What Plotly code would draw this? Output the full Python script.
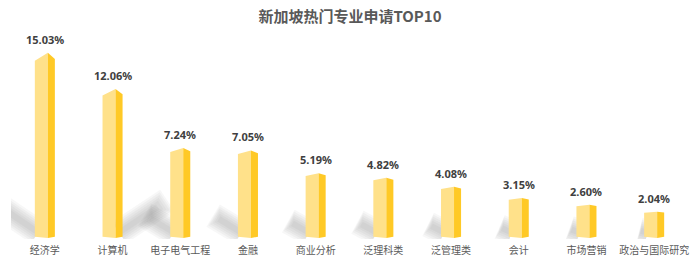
import plotly.graph_objects as go

# ---- data ----
categories = ["经济学", "计算机", "电子电气工程", "金融", "商业分析",
              "泛理科类", "泛管理类", "会计", "市场营销", "政治与国际研究"]
values = [15.03, 12.06, 7.24, 7.05, 5.19, 4.82, 4.08, 3.15, 2.60, 2.04]
value_labels = [f"{v:.2f}%" for v in values]
title_text = "新加坡热门专业申请TOP10"

# ---- style ----
FRONT = "#FFE18A"
SIDE = "#FFC926"
HALF = 0.148          # half total bar width (category units)
FRONT_W = 0.192       # front face width
ROOF = 0.045          # roof rise relative to value
SHADOW_DIR = [-1, 1, -1, -1, -1, -1, -1, -1, -1, -1]
SH_DX = 0.059         # shadow horizontal length per value unit
SH_DY = 0.256         # shadow vertical length per value unit

fig = go.Figure()

# soft shadows (layered translucent strokes)
layers = [(26, 1.00), (22, 0.97), (18, 0.94), (14, 0.90), (10, 0.86), (6, 0.80)]
for i, v in enumerate(values):
    d = SHADOW_DIR[i]
    xs = i - HALF + 0.05 if d < 0 else i + HALF - 0.05
    x0, y0 = xs, 0.35
    ex, ey = xs + d * SH_DX * v, SH_DY * v
    for w, t in layers:
        x1 = x0 + (ex - x0) * t
        y1 = y0 + (ey - y0) * t
        fig.add_trace(go.Scatter(
            x=[x0, x1], y=[y0, y1], mode="lines",
            line=dict(color="rgba(95,95,95,0.05)", width=w),
            hoverinfo="skip", showlegend=False))

# bars (prism look)
for i, v in enumerate(values):
    xl = i - HALF
    xm = xl + FRONT_W
    xr = i + HALF
    peak = v * (1 + ROOF)
    right = v * (1 + ROOF * 0.2)
    fig.add_trace(go.Scatter(
        x=[xl, xl, xm, xm, xl], y=[0, v, peak, -0.12, 0],
        mode="lines", fill="toself", fillcolor=FRONT,
        line=dict(width=0), hoverinfo="skip", showlegend=False))
    fig.add_trace(go.Scatter(
        x=[xm, xm, xr, xr, xm], y=[-0.12, peak, right, 0, -0.12],
        mode="lines", fill="toself", fillcolor=SIDE,
        line=dict(width=0), hoverinfo="skip", showlegend=False))
    fig.add_annotation(
        x=i, y=peak, text=value_labels[i], showarrow=False,
        yanchor="bottom", yshift=4,
        font=dict(family="Noto Sans, Noto Sans CJK SC", size=11,
                  color="#404040", weight="bold"))

fig.update_layout(
    width=700, height=263,
    margin=dict(l=11, r=12, t=32, b=24, autoexpand=False),
    paper_bgcolor="white", plot_bgcolor="white",
    title=dict(text=title_text, x=0.5, xanchor="center",
               y=1 - 17 / 263, yanchor="middle", yref="container",
               font=dict(family="Noto Sans CJK SC", size=15,
                         color="#595959", weight="bold")),
    xaxis=dict(range=[-0.5, 9.5], tickmode="array",
               tickvals=list(range(len(categories))), ticktext=categories,
               showgrid=False, zeroline=False, showline=False, ticks="",
               ticklabelstandoff=4, automargin=False,
               tickfont=dict(family="Noto Sans CJK SC", size=10, color="#595959")),
    yaxis=dict(range=[-0.2, 17.48], visible=False, showgrid=False,
               zeroline=False, automargin=False),
    showlegend=False,
)

fig.write_html("out.html")
